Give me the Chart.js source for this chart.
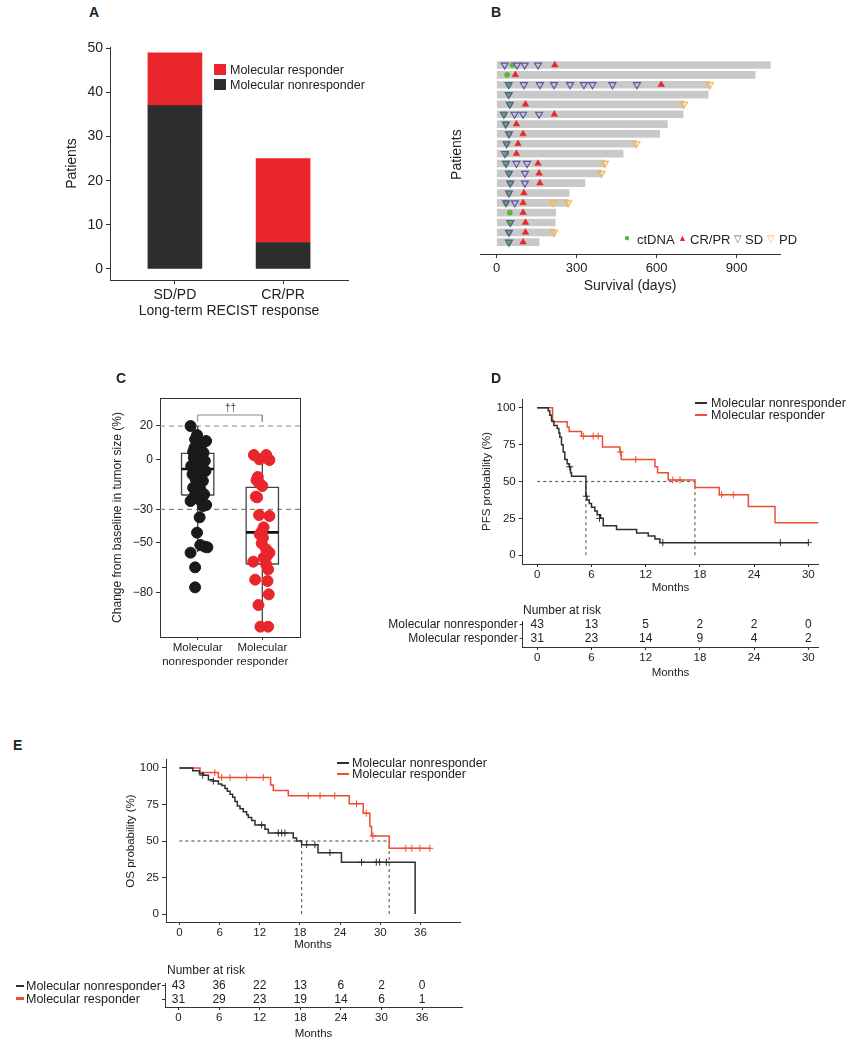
<!DOCTYPE html>
<html>
<head>
<meta charset="utf-8">
<script src="https://cdn.jsdelivr.net/npm/chart.js@4"></script>
<style>
  body { margin: 0; background: #fff; }
  #page { position: relative; width: 856px; height: 1050px; overflow: hidden; font-family: 'Liberation Sans', Arial, sans-serif; color: #222; }
  canvas { position: absolute; }
  .t { position: absolute; white-space: nowrap; line-height: 1; }
  .letter { font-weight: bold; font-size: 14px; }
  .sw { position: absolute; }
</style>
</head>
<body>
<div id="page">
  <canvas id="chartA" width="330" height="310" style="left:40px;top:20px"></canvas>
  <canvas id="chartB" width="380" height="270" style="left:440px;top:40px"></canvas>
  <canvas id="chartC" width="220" height="290" style="left:100px;top:385px"></canvas>
  <canvas id="chartD" width="380" height="215" style="left:470px;top:385px"></canvas>
  <canvas id="riskD" width="490" height="85" style="left:360px;top:600px"></canvas>
  <canvas id="chartE" width="400" height="210" style="left:100px;top:750px"></canvas>
  <canvas id="riskE" width="480" height="90" style="left:0px;top:960px"></canvas>

  <div class="t letter" style="left:89px;top:5px">A</div>
  <div class="t letter" style="left:491px;top:5px">B</div>
  <div class="t letter" style="left:116px;top:371px">C</div>
  <div class="t letter" style="left:491px;top:371px">D</div>
  <div class="t letter" style="left:13px;top:738px">E</div>

  <!-- A legend -->
  <div class="sw" style="left:214px;top:64px;width:12px;height:11px;background:#e8262c"></div>
  <div class="sw" style="left:214px;top:79px;width:12px;height:11px;background:#2d2d2d"></div>
  <div class="t" style="left:230px;top:64px;font-size:12.5px">Molecular responder</div>
  <div class="t" style="left:230px;top:79px;font-size:12.5px">Molecular nonresponder</div>

  <!-- B legend -->
  <div class="t" style="left:624px;top:233px;font-size:10px;color:#5bb53b">&#9679;</div>
  <div class="t" style="left:637px;top:233px;font-size:13px">ctDNA</div>
  <div class="t" style="left:678px;top:234px;font-size:9px;color:#e8262c">&#9650;</div>
  <div class="t" style="left:690px;top:233px;font-size:13px">CR/PR</div>
  <div class="t" style="left:734px;top:234px;font-size:10px;color:#5a56a6">&#9661;</div>
  <div class="t" style="left:745px;top:233px;font-size:13px">SD</div>
  <div class="t" style="left:767px;top:234px;font-size:10px;color:#f5b547">&#9661;</div>
  <div class="t" style="left:779px;top:233px;font-size:13px">PD</div>

  <!-- C significance -->
  <div class="t" style="left:225px;top:403px;font-size:10px;color:#444">&dagger;&dagger;</div>

  <!-- D legend -->
  <div class="sw" style="left:695px;top:402px;width:12px;height:2px;background:#2f2f2f"></div>
  <div class="sw" style="left:695px;top:414px;width:12px;height:2px;background:#ef4d33"></div>
  <div class="t" style="left:711px;top:397px;font-size:12.5px">Molecular nonresponder</div>
  <div class="t" style="left:711px;top:409px;font-size:12.5px">Molecular responder</div>
  <div class="t" style="left:523px;top:604px;font-size:12px">Number at risk</div>

  <!-- E legend -->
  <div class="sw" style="left:337px;top:762px;width:12px;height:2px;background:#2f2f2f"></div>
  <div class="sw" style="left:337px;top:773px;width:12px;height:2px;background:#ef4d33"></div>
  <div class="t" style="left:352px;top:757px;font-size:12.5px">Molecular nonresponder</div>
  <div class="t" style="left:352px;top:768px;font-size:12.5px">Molecular responder</div>
  <div class="t" style="left:167px;top:964px;font-size:12px">Number at risk</div>
  <div class="sw" style="left:16px;top:985px;width:8px;height:2px;background:#2f2f2f"></div>
  <div class="sw" style="left:16px;top:997px;width:8px;height:3px;background:#ef4d33"></div>
  <div class="t" style="left:26px;top:980px;font-size:12.5px">Molecular nonresponder</div>
  <div class="t" style="left:26px;top:993px;font-size:12.5px">Molecular responder</div>
</div>

<script>
// ---- A: long-term RECIST response ----
const aCategories = ["SD/PD", "CR/PR"];
const aNonresponder = [37, 6];
const aResponder = [12, 19];
const aTicks = [0, 10, 20, 30, 40, 50];

// ---- B: swimmer plot, one row per patient (days) ----
const bSurvival = [1026, 969, 799, 793, 702, 699, 640, 611, 524, 474, 406, 393, 331, 272, 268, 221, 219, 219, 159];
// [row, day]
const bCtDNA = [[1, 59], [2, 39], [3, 45], [4, 45], [5, 49], [6, 28], [7, 34], [8, 46], [9, 37], [10, 37],
  [11, 35], [12, 46], [13, 51], [14, 46], [15, 35], [16, 49], [17, 51], [18, 46], [19, 46]];
const bSD = [[1, 30], [1, 76], [1, 105], [1, 155],
  [3, 45], [3, 102], [3, 162], [3, 215], [3, 275], [3, 327], [3, 359], [3, 434], [3, 526],
  [4, 45], [5, 49], [6, 27], [6, 67], [6, 99], [6, 159], [7, 34], [8, 46], [9, 37], [10, 31],
  [11, 35], [11, 74], [11, 114], [12, 46], [12, 106], [13, 51], [13, 106], [14, 46],
  [15, 35], [15, 68], [17, 51], [18, 46], [19, 46]];
const bCRPR = [[1, 218], [2, 70], [3, 617], [5, 108], [6, 216], [7, 74], [8, 99], [9, 80], [10, 74],
  [11, 155], [12, 159], [13, 162], [14, 102], [15, 99], [16, 99], [17, 108], [18, 108], [19, 99]];
const bPD = [[3, 799], [5, 702], [9, 524], [11, 406], [12, 393], [15, 211], [15, 268], [18, 215]];
const bTicks = [0, 300, 600, 900];

// ---- C: change in tumour size (%) ----
const cGroups = [["Molecular", "nonresponder"], ["Molecular", "responder"]];
const cTicks = [20, 0, -30, -50, -80];
const cQ1 = [-21.4, -62.8];
const cMedian = [-5.8, -43.8];
const cQ3 = [3.6, -16.8];
const cWhiskerLo = [-55.6, -100.2];
const cWhiskerHi = [20, 3];
const cNonX = [0.89, 0.99, 1.13, 0.96, 1.01, 0.95, 1.05, 0.93, 1.09, 0.99, 1.06, 0.94, 1.02, 1.11, 0.98,
  1.07, 0.90, 1.03, 0.95, 1.12, 0.99, 0.92, 1.05, 0.97, 1.08, 1.00, 0.93, 1.04, 0.98, 1.10, 0.95, 1.02,
  0.89, 1.13, 1.08, 1.03, 0.99, 1.04, 1.11, 1.15, 0.89, 0.96, 0.96];
const cNonY = [20, 14.6, 11, 12, 9, 7, 6, 4.5, 4, 3, 2, 1, 0, -1, -2, -3, -4, -5, -6, -7, -8, -9, -10, -12,
  -13, -15, -17, -18, -19, -21, -22, -24, -25, -27.4, -28, -34.8, -44, -51.4, -52.4, -52.8, -56, -64.8, -76.8];
const cRespX = [1.87, 1.955, 2.06, 2.11, 2.04, 1.93, 1.91, 1.95, 2.0, 1.90, 1.92, 1.95, 2.11, 2.02, 1.99,
  1.96, 2.01, 1.99, 2.06, 2.11, 2.07, 2.02, 1.86, 2.06, 2.09, 1.89, 2.08, 2.10, 1.94, 1.97, 2.09];
const cRespY = [2.6, 0, 2.6, -0.4, 1, -10.6, -12.5, -14.2, -16, -22.4, -22.8, -33.4, -34, -40.8, -43.4,
  -45, -47, -50.4, -54, -56, -58, -59, -61.4, -63, -66, -72.2, -73, -81, -87.4, -100.4, -100.4];

// ---- D: PFS ----
const kmGroups = ["Molecular nonresponder", "Molecular responder"];
const kmTicks = [0, 25, 50, 75, 100];
const pfsTicks = [0, 6, 12, 18, 24, 30];
const pfsNonT = [0, 1.22, 1.4, 1.59, 1.85, 2.21, 2.4, 2.51, 2.69, 2.88, 3.06, 3.32, 3.54, 3.69, 3.8, 5.39,
  5.5, 5.76, 6.01, 6.38, 6.64, 7.01, 7.31, 8.78, 11.0, 12.29, 13.03, 13.58, 30.0];
const pfsNonS = [100, 98, 95, 91, 88, 86, 83, 80, 75, 70, 65, 62, 60, 56, 53.5, 40,
  37.5, 35, 32.5, 30, 27.5, 25, 20, 17.5, 15, 13, 11, 8.5, 8.5];
const pfsNonCensor = [[3.6, 60], [5.45, 40], [6.9, 25], [13.9, 8.5], [26.9, 8.5], [30, 8.5]];
const pfsRespT = [0, 1.7, 3.32, 3.54, 4.91, 7.23, 9.15, 9.3, 13.03, 13.32, 14.5, 17.45, 20.15, 23.36, 26.31, 32.0];
const pfsRespS = [100, 90.5, 87, 84, 80.8, 73.5, 70, 65, 60, 56, 51, 46, 41, 33, 22, 22];
const pfsRespCensor = [[5.1, 80.8], [6.2, 80.8], [6.75, 80.8], [9.2, 70], [10.9, 65], [15.0, 51],
  [15.8, 51], [20.4, 41], [21.7, 41]];
const pfsMedians = [5.39, 17.45];
const riskNonD = [43, 13, 5, 2, 2, 0];
const riskRespD = [31, 23, 14, 9, 4, 2];

// ---- E: OS ----
const osTicks = [0, 6, 12, 18, 24, 30, 36];
const osNonT = [0, 1.99, 2.98, 3.58, 4.33, 5.07, 5.82, 6.32, 6.81, 7.16, 7.56, 7.96, 8.3, 8.65, 9.05, 9.55,
  10.04, 10.29, 10.79, 11.29, 12.78, 13.28, 17.0, 17.5, 18.25, 20.7, 24.2, 35.2];
const osNonS = [100, 98, 96, 95, 92, 91, 89, 88, 86, 84, 82, 80, 77, 74, 72, 70,
  68, 66, 64, 61, 58, 55.5, 52, 50, 47.5, 42, 35.5, 0];
const osNonCensor = [[3.48, 95], [5.07, 91], [12.28, 61], [14.77, 55.5], [15.27, 55.5], [15.76, 55.5],
  [19.0, 47.5], [20.24, 47.5], [22.48, 42], [27.2, 35.5], [29.4, 35.5], [29.9, 35.5], [30.9, 35.5]];
const osRespT = [0, 3.08, 5.82, 13.62, 14.02, 16.26, 25.36, 27.45, 28.44, 28.7, 31.33, 37.4];
const osRespS = [100, 96.8, 93.5, 88.3, 84.5, 81, 75.5, 69, 60, 53.5, 45, 45];
const osRespCensor = [[5.3, 96.8], [6.3, 93.5], [7.56, 93.5], [10.04, 93.5], [12.53, 93.5], [19.24, 81],
  [21.0, 81], [23.2, 81], [26.45, 75.5], [27.9, 69], [28.9, 53.5], [33.8, 45], [34.7, 45], [35.9, 45], [37.4, 45]];
const osMedians = [18.25, 31.33];
const riskNonE = [43, 36, 22, 13, 6, 2, 0];
const riskRespE = [31, 29, 23, 19, 14, 6, 1];

const BLACK = "#2f2f2f";
const RED = "#ef4d33";

Chart.defaults.font.family = "'Liberation Sans', Arial, sans-serif";
Chart.defaults.color = "#222";
Chart.defaults.animation = false;
Chart.defaults.responsive = false;
Chart.defaults.plugins.legend.display = false;
Chart.defaults.plugins.tooltip.enabled = false;

const fmt = (v) => (v < 0 ? "\u2212" + Math.abs(v) : String(v));
const pts = (xs, ys) => xs.map((x, i) => ({ x: x, y: ys[i] }));
const pairs = (arr) => arr.map(([x, y]) => ({ x: x, y: y }));

function linAxis(min, max, tickVals, size, extra) {
  return Object.assign({
    type: "linear", min: min, max: max, offset: false,
    afterBuildTicks: (s) => { s.ticks = tickVals.map((v) => ({ value: v })); },
    ticks: { padding: 3, font: { size: size }, color: "#222", callback: fmt },
    grid: { drawOnChartArea: false, tickLength: 4, color: "#333", offset: false },
    border: { color: "#333", width: 1 },
  }, extra);
}

function title(text, size, left, pad) {
  return { display: true, text: text, font: { size: size }, color: "#222",
    padding: left ? { top: 4, bottom: 0 } : { top: 0, bottom: pad } };
}

// bottom axis with short ticks, used by the survival panels
function kmAxis(min, max, tickVals, text, pad, height) {
  return linAxis(min, max, tickVals, 11.5, {
    ticks: { padding: 1, font: { size: 11.5 }, color: "#222", callback: fmt },
    grid: { drawOnChartArea: false, tickLength: 3, color: "#333", offset: false },
    title: title(text, 11.5, false, pad),
    afterFit: (s) => { s.height = height; },
  });
}

function line(data, color, width, dash, order) {
  return { type: "line", data: data, borderColor: color, borderWidth: width, borderDash: dash || [],
    pointRadius: 0, fill: false, tension: 0, order: order };
}

function kmLine(data, color) {
  return { type: "line", data: data, borderColor: color, borderWidth: 1.5, stepped: true,
    pointRadius: 0, fill: false, order: 2 };
}

function censor(data, color) {
  return { type: "scatter", data: data, pointStyle: "cross", pointRadius: 3.5,
    pointBorderColor: color, pointBorderWidth: 1, order: 1 };
}

// risk table numbers are drawn at their points
const riskText = {
  id: "riskText",
  afterDatasetsDraw(chart) {
    const ctx = chart.ctx;
    ctx.save();
    ctx.font = "12px 'Liberation Sans', Arial, sans-serif";
    ctx.fillStyle = "#222";
    ctx.textAlign = "center";
    ctx.textBaseline = "middle";
    chart.data.datasets.forEach((ds, di) => {
      chart.getDatasetMeta(di).data.forEach((p, i) => {
        ctx.fillText(String(ds.data[i].n), p.x, p.y);
      });
    });
    ctx.restore();
  },
};

// ---------- A ----------
new Chart(document.getElementById("chartA"), {
  type: "scatter",
  data: {
    datasets: [
      { type: "bar", data: aNonresponder.map((v, i) => ({ x: i + 1, y: v })), backgroundColor: "#2d2d2d", barThickness: 54 },
      { type: "bar", data: aResponder.map((v, i) => ({ x: i + 1, y: v })), backgroundColor: "#e8262c", barThickness: 54 },
    ],
  },
  options: {
    layout: { padding: { left: 20, top: 27, right: 22, bottom: 10 } },
    scales: {
      x: linAxis(0.4, 2.6, [1, 2], 14, {
        stacked: true,
        ticks: { padding: 3, font: { size: 14 }, color: "#222", callback: (v) => aCategories[v - 1] },
        title: { display: true, text: "Long-term RECIST response", font: { size: 14 }, color: "#222", padding: { top: 0, bottom: 0 } },
        afterFit: (s) => { s.height = 40; },
      }),
      y: linAxis(-2.5, 50.3, aTicks, 14, {
        stacked: true,
        title: { display: true, text: "Patients", font: { size: 14 }, color: "#222", padding: { top: 4, bottom: 0 } },
        afterFit: (s) => { s.width = 50; },
      }),
    },
  },
});

// ---------- B ----------
new Chart(document.getElementById("chartB"), {
  type: "scatter",
  data: {
    datasets: [
      { data: pairs(bCRPR.map(([r, d]) => [d, r])), pointStyle: "triangle", pointRadius: 3.8,
        pointBackgroundColor: "#e8262c", pointBorderColor: "#e8262c", pointBorderWidth: 0.5, order: 1 },
      { data: pairs(bPD.map(([r, d]) => [d, r])), pointStyle: "triangle", pointRotation: 180, pointRadius: 4,
        pointBackgroundColor: "rgba(0,0,0,0)", pointBorderColor: "#f5b547", pointBorderWidth: 1.2, order: 2 },
      { data: pairs(bSD.map(([r, d]) => [d, r])), pointStyle: "triangle", pointRotation: 180, pointRadius: 4,
        pointBackgroundColor: "rgba(0,0,0,0)", pointBorderColor: "#5a56a6", pointBorderWidth: 1.2, order: 3 },
      { data: pairs(bCtDNA.map(([r, d]) => [d, r])), pointStyle: "circle", pointRadius: 2.8,
        pointBackgroundColor: "#5bb53b", pointBorderColor: "#5bb53b", pointBorderWidth: 0, order: 4 },
      { type: "bar", indexAxis: "y", data: bSurvival.map((d, i) => ({ x: [0, d], y: i + 1 })),
        backgroundColor: "#c9c9c9", barThickness: 7, order: 5 },
    ],
  },
  options: {
    layout: { padding: { left: 5, top: 15.2, right: 40, bottom: 10 } },
    scales: {
      x: linAxis(-62.6, 1062.4, bTicks, 13, {
        title: { display: true, text: "Survival (days)", font: { size: 14 }, color: "#222", padding: { top: 0, bottom: 5 } },
        afterFit: (s) => { s.height = 46; },
      }),
      y: {
        type: "linear", reverse: true, min: 0, max: 20.2, offset: false,
        ticks: { display: false }, grid: { display: false, offset: false }, border: { display: false },
        title: { display: true, text: "Patients", font: { size: 14 }, color: "#222", padding: { top: 4, bottom: 0 } },
        afterFit: (s) => { s.width = 35; },
      },
    },
  },
});

// ---------- C ----------
const boxHalf = 0.25;
const cDatasets = [
  { data: pts(cNonX, cNonY), pointRadius: 5.5, pointBackgroundColor: "#1a1a1a", pointBorderColor: "#1a1a1a", order: 0 },
  { data: pts(cRespX, cRespY), pointRadius: 5.5, pointBackgroundColor: "#e8262c", pointBorderColor: "#e8262c", order: 0 },
  line([{ x: 0.417, y: 20 }, { x: 2.583, y: 20 }], "#888", 1.2, [5, 4], 4),
  line([{ x: 0.417, y: -30 }, { x: 2.583, y: -30 }], "#888", 1.2, [5, 4], 4),
  line([{ x: 1, y: 22.6 }, { x: 1, y: 26.6 }, { x: 2, y: 26.6 }, { x: 2, y: 22.6 }], "#888", 1, [], 4),
];
[1, 2].forEach((g, i) => {
  cDatasets.push(line([{ x: g - boxHalf, y: cQ1[i] }, { x: g - boxHalf, y: cQ3[i] }, { x: g + boxHalf, y: cQ3[i] },
    { x: g + boxHalf, y: cQ1[i] }, { x: g - boxHalf, y: cQ1[i] }], "#444", 1.3, [], 2));
  cDatasets.push(line([{ x: g, y: cQ3[i] }, { x: g, y: cWhiskerHi[i] }], "#444", 1.3, [], 2));
  cDatasets.push(line([{ x: g, y: cQ1[i] }, { x: g, y: cWhiskerLo[i] }], "#444", 1.3, [], 2));
  cDatasets.push(line([{ x: g - boxHalf, y: cMedian[i] }, { x: g + boxHalf, y: cMedian[i] }], "#111", 2.6, [], 1));
});

new Chart(document.getElementById("chartC"), {
  type: "scatter",
  data: { datasets: cDatasets },
  options: {
    layout: { padding: { left: 6, top: 13, right: 20, bottom: 6 } },
    scales: {
      x: linAxis(0.417, 2.583, [1, 2], 11.5, {
        ticks: { padding: 1, font: { size: 11.5 }, color: "#222", callback: (v) => cGroups[v - 1] },
        grid: { drawOnChartArea: false, tickLength: 3, color: "#333", offset: false },
        afterFit: (s) => { s.height = 32; },
      }),
      y: linAxis(-106.6, 36.8, cTicks, 12, {
        title: title("Change from baseline in tumor size (%)", 12, true),
        afterFit: (s) => { s.width = 54; },
      }),
      xTop: { type: "linear", position: "top", min: 0.417, max: 2.583, ticks: { display: false },
        grid: { display: false }, border: { display: true, color: "#333", width: 1 }, afterFit: (s) => { s.height = 0; } },
      yRight: { type: "linear", position: "right", min: -106.6, max: 36.8, ticks: { display: false },
        grid: { display: false }, border: { display: true, color: "#333", width: 1 }, afterFit: (s) => { s.width = 0; } },
    },
  },
});

// ---------- D ----------
new Chart(document.getElementById("chartD"), {
  type: "scatter",
  data: {
    datasets: [
      kmLine(pts(pfsNonT, pfsNonS), BLACK),
      kmLine(pts(pfsRespT, pfsRespS), RED),
      censor(pairs(pfsNonCensor), BLACK),
      censor(pairs(pfsRespCensor), RED),
      line([{ x: 0, y: 50 }, { x: pfsMedians[1], y: 50 }], "#666", 1.2, [3, 3], 3),
      line([{ x: pfsMedians[0], y: 0 }, { x: pfsMedians[0], y: 50 }], "#666", 1.2, [3, 3], 3),
      line([{ x: pfsMedians[1], y: 0 }, { x: pfsMedians[1], y: 50 }], "#666", 1.2, [3, 3], 3),
    ],
  },
  options: {
    layout: { padding: { left: 6, top: 14, right: 31.7, bottom: 3 } },
    scales: {
      x: kmAxis(-1.6, 31.1, pfsTicks, "Months", 2, 33),
      y: linAxis(-6, 106, kmTicks, 11.5, { title: title("PFS probability (%)", 11.5, true), afterFit: (s) => { s.width = 46.7; } }),
    },
  },
});

new Chart(document.getElementById("riskD"), {
  type: "scatter",
  data: {
    datasets: [
      { data: pfsTicks.map((t, i) => ({ x: t, y: 1, n: riskNonD[i] })), pointRadius: 0 },
      { data: pfsTicks.map((t, i) => ({ x: t, y: 2, n: riskRespD[i] })), pointRadius: 0 },
    ],
  },
  options: {
    layout: { padding: { left: 5, top: 21, right: 31.7, bottom: 3.9 } },
    scales: {
      x: kmAxis(-1.6, 31.1, pfsTicks, "Months", 1, 34),
      y: linAxis(0.72, 2.58, [1, 2], 12, {
        reverse: true,
        ticks: { padding: 2, font: { size: 12 }, color: "#222", callback: (v) => kmGroups[v - 1] },
        grid: { drawOnChartArea: false, tickLength: 3, color: "#333", offset: false },
        afterFit: (s) => { s.width = 157.7; },
      }),
    },
  },
  plugins: [riskText],
});

// ---------- E ----------
new Chart(document.getElementById("chartE"), {
  type: "scatter",
  data: {
    datasets: [
      kmLine(pts(osNonT, osNonS), BLACK),
      kmLine(pts(osRespT, osRespS), RED),
      censor(pairs(osNonCensor), BLACK),
      censor(pairs(osRespCensor), RED),
      line([{ x: 0, y: 50 }, { x: osMedians[1], y: 50 }], "#666", 1.2, [3, 3], 3),
      line([{ x: osMedians[0], y: 0 }, { x: osMedians[0], y: 50 }], "#666", 1.2, [3, 3], 3),
      line([{ x: osMedians[1], y: 0 }, { x: osMedians[1], y: 50 }], "#666", 1.2, [3, 3], 3),
    ],
  },
  options: {
    layout: { padding: { left: 19.8, top: 7.9, right: 40, bottom: 4.9 } },
    scales: {
      x: kmAxis(-2, 41.9, osTicks, "Months", 3, 33),
      y: linAxis(-5.5, 105.5, kmTicks, 11.5, { title: title("OS probability (%)", 11.5, true), afterFit: (s) => { s.width = 46.2; } }),
    },
  },
});

new Chart(document.getElementById("riskE"), {
  type: "scatter",
  data: {
    datasets: [
      { data: osTicks.map((t, i) => ({ x: t, y: 1, n: riskNonE[i] })), pointRadius: 0 },
      { data: osTicks.map((t, i) => ({ x: t, y: 2, n: riskRespE[i] })), pointRadius: 0 },
    ],
  },
  options: {
    layout: { padding: { left: 5, top: 23.3, right: 18, bottom: 6 } },
    scales: {
      x: kmAxis(-2, 41.9, osTicks, "Months", 3, 37),
      y: linAxis(0.8, 2.58, [1, 2], 12, {
        reverse: true,
        ticks: { padding: 2, font: { size: 12 }, color: "#222", callback: () => "" },
        grid: { drawOnChartArea: false, tickLength: 3, color: "#333", offset: false },
        afterFit: (s) => { s.width = 160; },
      }),
    },
  },
  plugins: [riskText],
});
</script>
</body>
</html>
